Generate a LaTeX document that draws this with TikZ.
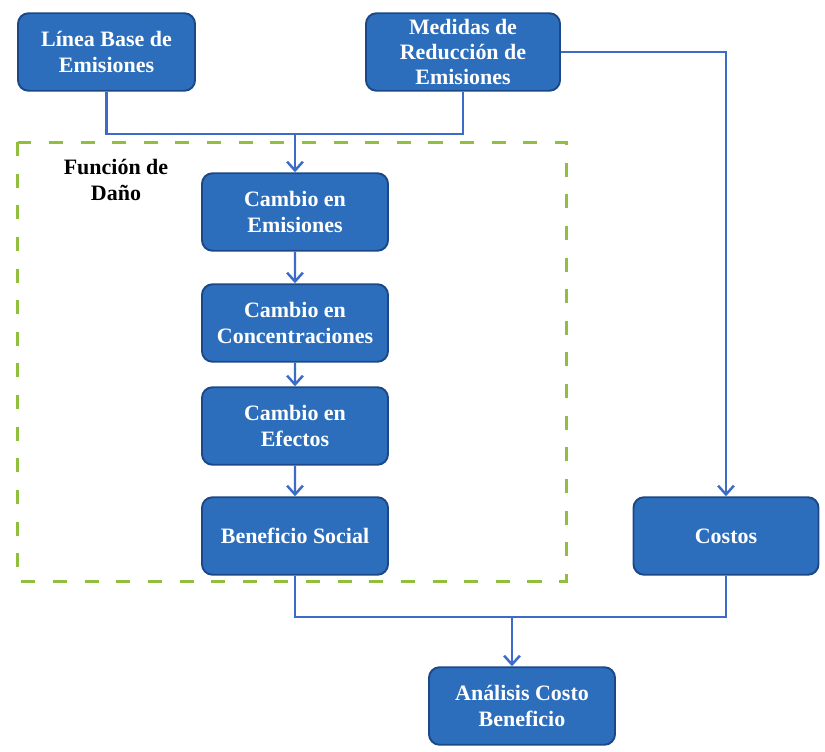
\documentclass[tikz,border=0pt]{standalone}
\usepackage{fontspec}
\setmainfont{Liberation Serif}
\usepackage{tikz}
\usetikzlibrary{arrows.meta}

\definecolor{cajaazul}{RGB}{44,110,188}
\definecolor{bordeazul}{RGB}{28,72,135}
\definecolor{lineaazul}{RGB}{60,108,200}
\definecolor{verdedash}{RGB}{145,190,60}

\tikzset{
  caja/.style={draw=bordeazul, line width=1.1pt, fill=cajaazul, rounded corners=6pt,
    text=white, font=\bfseries\fontsize{12.5}{14.3}\selectfont, align=center,
    minimum width=3.72cm, minimum height=1.55cm, inner sep=2pt},
  linea/.style={draw=lineaazul, line width=1.4pt},
  flecha/.style={linea, -{Straight Barb[length=5pt,width=9pt]}},
}

\begin{document}
\begin{tikzpicture}[scale=0.2]
\useasboundingbox (0,0) rectangle (82.5,-75.1);
% zona de la funcion de dano
\draw [verdedash, line width=1.7pt, dash pattern=on 8pt off 10pt] (1.75,-14.2) rectangle (56.6,-58.1);
\node [font=\bfseries\fontsize{12.5}{14.3}\selectfont, align=center] (dano) at (11.6,-18) {Función de\\Daño};
% cajas
\node [caja, minimum width=3.54cm] (base) at (10.65,-5.2) {Línea Base de\\Emisiones};
\node [caja, minimum width=3.88cm] (medidas) at (46.3,-5.2) {Medidas de\\Reducción de\\Emisiones};
\node [caja] (emis) at (29.5,-21.2) {Cambio en\\Emisiones};
\node [caja] (conc) at (29.5,-32.3) {Cambio en\\Concentraciones};
\node [caja] (efec) at (29.5,-42.6) {Cambio en\\Efectos};
\node [caja] (benef) at (29.5,-53.6) {Beneficio Social};
\node [caja, minimum width=3.7cm] (costos) at (72.6,-53.6) {Costos};
\node [caja] (analisis) at (52.2,-70.6) {Análisis Costo\\Beneficio};
% conectores
\coordinate (union) at (29.5,-13.4);
\coordinate (union2) at (51.2,-61.7);
\draw [linea] (base.south) |- (union) -| (medidas.south);
\draw [flecha] (union) -- (emis.north);
\draw [flecha] (medidas.east) -| (costos.north);
\draw [flecha] (emis) -- (conc);
\draw [flecha] (conc) -- (efec);
\draw [flecha] (efec) -- (benef);
\draw [linea] (benef.south) |- (union2) -| (costos.south);
\draw [flecha] (union2) -- (union2 |- analisis.north);
\end{tikzpicture}
\end{document}
